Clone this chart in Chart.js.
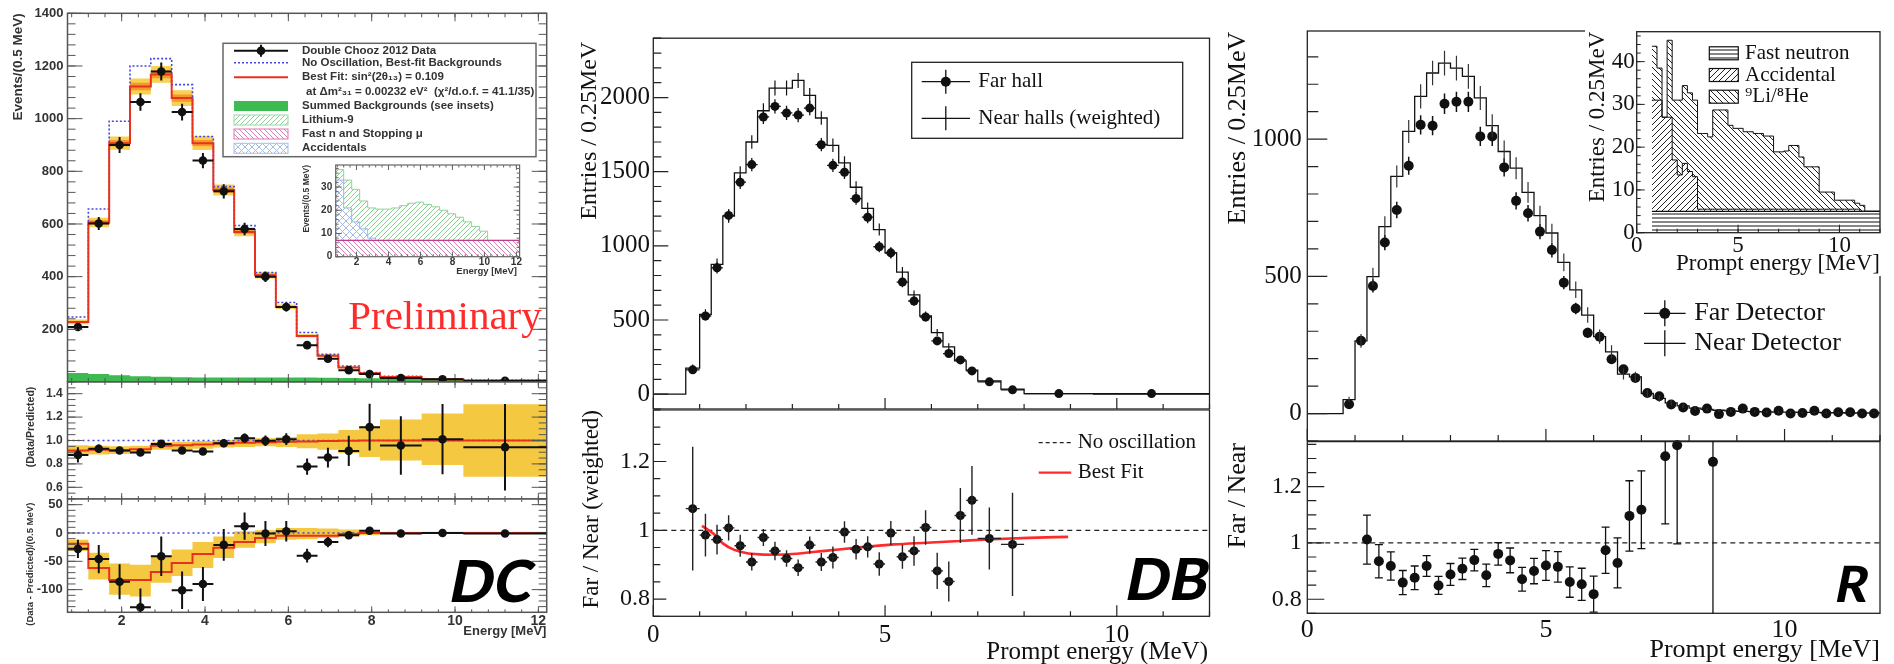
<!DOCTYPE html>
<html>
<head>
<meta charset="utf-8">
<title>Reactor spectra: DC, DB, R</title>
<script src="https://cdn.jsdelivr.net/npm/chart.js@4.4.1/dist/chart.umd.min.js"></script>
<style>
  html, body { margin: 0; padding: 0; background: #fff; }
  #page { position: relative; width: 1894px; height: 664px; overflow: hidden; background: #fff; }
  .pane { position: absolute; }
  .pane canvas { display: block; }
</style>
</head>
<body>
<div id="page"></div>
<script>
// ---------------- Double Chooz (left) ----------------
const dcEdges = [0.7, 1.2, 1.7, 2.2, 2.7, 3.2, 3.7, 4.2, 4.7, 5.2, 5.7, 6.2, 6.7, 7.2, 7.7, 8.2, 9.2, 10.2, 12.2];
const dcCenters = [0.95, 1.45, 1.95, 2.45, 2.95, 3.45, 3.95, 4.45, 4.95, 5.45, 5.95, 6.45, 6.95, 7.45, 7.95, 8.7, 9.7, 11.2];
const dcData = [209, 602, 900, 1063, 1179, 1025, 841, 724, 581, 400, 285, 140, 88, 45, 30, 15, 10, 5];
const dcDataErr = [15, 25, 30, 33, 34, 32, 29, 27, 24, 20, 17, 12, 9, 7, 5, 4, 3, 2];
const dcNoOsc = [247, 657, 990, 1200, 1228, 1129, 932, 742, 594, 416, 302, 188, 105, 61, 36, 22, 11, 6];
const dcBestFit = [228, 606, 907, 1122, 1168, 1078, 907, 729, 570, 405, 285, 175, 100, 55, 33, 19, 10, 5];
const dcSystOuter = [9, 18, 25, 30, 32, 30, 26, 21, 17, 12, 9, 6, 4, 3, 2, 1.5, 1, 1];
const dcSystInner = [4, 8, 12, 14, 15, 14, 12, 10, 8, 6, 4, 3, 2, 1.5, 1, 0.8, 0.5, 0.5];
const dcBkg = [34, 30, 26, 22, 20, 18, 17, 17, 17, 17, 17, 17, 16, 15, 14, 12, 10, 0];

const dcRatio = [0.877, 0.929, 0.914, 0.897, 0.971, 0.914, 0.906, 0.977, 1.02, 0.997, 1.011, 0.777, 0.854, 0.911, 1.114, 0.957, 1.011, 0.943];
const dcRatioErr = [0.065, 0.036, 0.03, 0.03, 0.03, 0.03, 0.03, 0.035, 0.04, 0.045, 0.05, 0.07, 0.085, 0.13, 0.2, 0.25, 0.3, 0.37];
const dcRatioFit = [0.915, 0.92, 0.915, 0.925, 0.955, 0.96, 0.965, 0.975, 0.98, 0.985, 0.99, 0.992, 0.995, 0.997, 1, 1, 1, 1];
const dcRatioBandLo = [0.87, 0.88, 0.885, 0.89, 0.92, 0.925, 0.93, 0.94, 0.945, 0.95, 0.945, 0.934, 0.92, 0.89, 0.86, 0.83, 0.79, 0.69];
const dcRatioBandHi = [0.96, 0.955, 0.95, 0.955, 0.985, 0.99, 0.995, 1.005, 1.015, 1.02, 1.03, 1.054, 1.06, 1.09, 1.12, 1.18, 1.23, 1.31];

const dcDiff = [-28, -46, -86, -131, -41, -101, -90, -21, 12, -1, 3, -40, -16, -4, 4, -1, 0, -1];
const dcDiffErr = [16, 25, 31, 33, 35, 33, 30, 28, 24, 22, 18, 12, 9, 6, 4, 3, 2, 2];
const dcDiffFit = [-19, -62, -83, -83, -69, -53, -37, -26, -16, -9, -5, -5, -5, -2, 0, 0, 0, 0];
const dcDiffBandLo = [-32, -82, -109, -112, -88, -76, -62, -44, -26, -18, -12, -11, -9, -6, -4, -2, -2, -2];
const dcDiffBandHi = [-12, -35, -54, -56, -41, -29, -16, -6, 3, 5, 9, 9, 8, 6, 4, 2, 2, 2];

const dcInsetEdges = [0.7, 1.2, 1.7, 2.2, 2.7, 3.2, 3.7, 4.2, 4.7, 5.2, 5.7, 6.2, 6.7, 7.2, 7.7, 8.2, 8.7, 9.2, 9.7, 10.2, 10.7, 11.2, 11.7, 12.2];
const dcInsetFastN = [7, 7, 7, 7, 7, 7, 7, 7, 7, 7, 7, 7, 7, 7, 7, 7, 7, 7, 7, 7, 7, 7, 7];
const dcInsetAcc = [26, 14, 8, 5, 1, 0, 0, 0, 0, 0, 0, 0, 0, 0, 0, 0, 0, 0, 0, 0, 0, 0, 0];
const dcInsetLi = [4.5, 12, 14, 12, 13, 13.5, 13.5, 14, 15, 16, 16.5, 15.5, 14.5, 13, 11.5, 10, 8, 6, 4, 0, 0, 0, 0];

const dcLegendLabels = [
  'Double Chooz 2012 Data',
  'No Oscillation, Best-fit Backgrounds',
  'Best Fit: sin\u00b2(2\u03b8\u2081\u2083) = 0.109',
  'at \u0394m\u00b2\u2083\u2081 = 0.00232 eV\u00b2  (\u03c7\u00b2/d.o.f. = 41.1/35)',
  'Summed Backgrounds (see insets)',
  'Lithium-9',
  'Fast n and Stopping \u03bc',
  'Accidentals'
];

// ---------------- Daya Bay (middle) ----------------
const dbEdges = [0.7, 1.0, 1.25, 1.5, 1.75, 2.0, 2.25, 2.5, 2.75, 3.0, 3.25, 3.5, 3.75, 4.0, 4.25, 4.5, 4.75, 5.0, 5.25, 5.5, 5.75, 6.0, 6.25, 6.5, 6.75, 7.0, 7.5, 8.0, 9.5, 12.0];
const dbCenters = [0.85, 1.125, 1.375, 1.625, 1.875, 2.125, 2.375, 2.625, 2.875, 3.125, 3.375, 3.625, 3.875, 4.125, 4.375, 4.625, 4.875, 5.125, 5.375, 5.625, 5.875, 6.125, 6.375, 6.625, 6.875, 7.25, 7.75, 8.75, 10.75];
const dbFar = [164, 527, 852, 1205, 1429, 1548, 1869, 1940, 1896, 1882, 1929, 1682, 1543, 1496, 1319, 1193, 994, 953, 756, 628, 520, 359, 274, 231, 157, 83, 29, 4, 4];
const dbFarErr = [20, 30, 38, 42, 45, 45, 48, 48, 48, 48, 48, 45, 45, 45, 42, 40, 38, 38, 35, 32, 30, 25, 22, 20, 18, 12, 8, 3, 3];
const dbNear = [175, 538, 875, 1200, 1492, 1700, 1911, 2064, 2064, 2115, 2014, 1862, 1678, 1559, 1395, 1252, 1110, 953, 823, 669, 527, 415, 319, 224, 162, 90, 34, 3, 0];
const dbNearErr = [25, 35, 40, 45, 45, 45, 50, 50, 50, 50, 50, 45, 45, 45, 40, 40, 40, 35, 35, 30, 30, 25, 25, 20, 20, 15, 10, 3, 0];
const dbRatio = [1.063, 0.986, 0.973, 1.007, 0.955, 0.908, 0.979, 0.94, 0.918, 0.891, 0.957, 0.908, 0.921, 0.995, 0.945, 0.952, 0.902, 0.992, 0.923, 0.94, 1.008, 0.882, 0.851, 1.043, 1.087, 0.976, 0.959];
const dbRatioErr = [0.18, 0.062, 0.043, 0.037, 0.032, 0.025, 0.025, 0.027, 0.024, 0.024, 0.025, 0.026, 0.032, 0.031, 0.03, 0.031, 0.034, 0.035, 0.035, 0.043, 0.05, 0.053, 0.058, 0.08, 0.1, 0.09, 0.15];
const dbFitE = [1.05, 1.3, 1.5, 1.75, 2.0, 2.3, 2.65, 3.0, 3.75, 4.5, 5.2, 5.9, 6.6, 7.3, 8.1, 8.95];
const dbFitR = [1.013, 0.99, 0.962, 0.943, 0.934, 0.93, 0.929, 0.931, 0.941, 0.951, 0.959, 0.964, 0.969, 0.974, 0.978, 0.981];

// ---------------- RENO (right) ----------------
const rEdges = [0.75, 1, 1.25, 1.5, 1.75, 2, 2.25, 2.5, 2.75, 3, 3.25, 3.5, 3.75, 4, 4.25, 4.5, 4.75, 5, 5.25, 5.5, 5.75, 6, 6.25, 6.5, 6.75, 7, 7.25, 7.5, 7.75, 8, 8.25, 8.5, 8.75, 9, 9.25, 9.5, 9.75, 10, 10.25, 10.5, 10.75, 11, 11.25, 11.5, 11.75, 12];
const rFar = [34, 265, 465, 623, 742, 903, 1052, 1049, 1129, 1136, 1136, 1010, 1010, 897, 775, 730, 663, 596, 477, 383, 294, 280, 198, 161, 130, 75, 63, 33, 22, 9, 18, -2, 6, 18, 6, 4, 10, 0, 2, 10, 0, 5, 5, 0, 0];
const rFarErr = [8, 18, 24, 28, 30, 33, 35, 35, 37, 37, 37, 35, 35, 33, 31, 30, 28, 27, 24, 21, 19, 18, 16, 14, 13, 10, 9, 7, 6, 4, 5, 3, 3, 5, 3, 3, 4, 3, 3, 4, 3, 3, 3, 3, 3];
const rNear = [51, 265, 499, 681, 864, 1028, 1156, 1241, 1277, 1259, 1229, 1150, 1049, 955, 894, 806, 721, 658, 551, 451, 359, 280, 225, 144, 134, 73, 55, 39, 28, 20, 15, 12, 10, 8, 7, 6, 5, 5, 4, 4, 3, 3, 2, 2, 2];
const rNearErr = [10, 25, 32, 38, 40, 42, 44, 45, 45, 45, 45, 44, 42, 40, 40, 38, 36, 34, 32, 30, 28, 26, 24, 20, 18, 14, 12, 10, 8, 7, 6, 5, 5, 4, 4, 4, 3, 3, 3, 3, 3, 3, 2, 2, 2];
const rRatioE = [1.25, 1.5, 1.75, 2, 2.25, 2.5, 2.75, 3, 3.25, 3.5, 3.75, 4, 4.25, 4.5, 4.75, 5, 5.25, 5.5, 5.75, 6, 6.25, 6.5, 6.75, 7, 7.5, 7.75, 8.5];
const rRatio = [1.012, 0.935, 0.918, 0.859, 0.876, 0.918, 0.849, 0.888, 0.908, 0.939, 0.885, 0.961, 0.938, 0.871, 0.9, 0.92, 0.915, 0.861, 0.853, 0.818, 0.974, 0.929, 1.096, 1.118, 1.308, 1.347, 1.288];
const rRatioErr = [0.087, 0.059, 0.05, 0.043, 0.042, 0.037, 0.032, 0.039, 0.038, 0.038, 0.04, 0.04, 0.044, 0.042, 0.045, 0.053, 0.054, 0.054, 0.057, 0.064, 0.082, 0.089, 0.125, 0.138, 0.24, 0.35, 0.6];
const rInsetFastN = [5, 5, 5, 5, 5, 5, 5, 5, 5, 5, 5, 5, 5, 5, 5, 5, 5, 5, 5, 5, 5, 5, 5, 5, 5, 5, 5, 5, 5, 5, 5, 5, 5, 5, 5, 5, 5, 5, 5, 5, 5, 5, 5, 5, 5];
const rInsetAcc = [26, 26, 22, 22, 12, 8.5, 11.2, 9.3, 8.1, 0.5, 0.5, 0.5, 0.5, 0.5, 0.5, 0.5, 0.5, 0.5, 0.5, 0.5, 0.5, 0.5, 0.5, 0.5, 0.5, 0.5, 0.5, 0.5, 0.5, 0.5, 0.5, 0.5, 0.5, 0.5, 0.5, 0.5, 0.5, 0.5, 0.5, 0.5, 0.5, 0, 0, 0, 0];
const rInsetLi = [12.6, 7.5, 0, 18, 14, 17.5, 18.2, 18.4, 17.9, 17.7, 17.7, 16.9, 23.2, 23.2, 23.2, 19.6, 18.9, 18.9, 18.1, 18.1, 17.7, 17.7, 17.1, 17.1, 13.4, 13.4, 13.6, 14.9, 14.9, 12.2, 9.9, 9.9, 9.9, 4.0, 4.0, 4.0, 2.1, 2.1, 2.1, 2.1, 1.4, 1.4, 0, 0, 0];

// ---------------- helpers ----------------
const SANS = '"Liberation Sans", "DejaVu Sans", Arial, sans-serif';
const SERIF = '"Liberation Serif", "DejaVu Serif", "Times New Roman", serif';
const BIG = 'Lato, "Open Sans", "DejaVu Sans", sans-serif';
const PAGE = document.getElementById('page');

const pts = (xs, ys) => xs.map((x, i) => ({ x, y: ys[i] }));
const half = e => e.slice(0, -1).map((v, i) => (e[i + 1] - v) / 2);
const mids = e => e.slice(0, -1).map((v, i) => (e[i + 1] + v) / 2);
const add = (a, b, s) => a.map((v, i) => v + s * b[i]);
function seq(a, b, s) { const o = []; for (let v = a; v <= b + 1e-9; v += s) o.push(+v.toFixed(4)); return o; }

function steps(edges, vals, start) {
  const d = start === undefined ? [] : [{ x: start, y: 0 }];
  vals.forEach((v, i) => d.push({ x: edges[i], y: v }));
  d.push({ x: edges[edges.length - 1], y: vals[vals.length - 1] });
  return d;
}
function hist(edges, vals, style, start) {
  return Object.assign({ data: steps(edges, vals, start), stepped: 'before', pointRadius: 0,
    borderColor: '#111', borderWidth: 1.3, fill: false }, style);
}
function dots(xs, ys, r, err) {
  return { data: pts(xs, ys), showLine: false, pointRadius: r, pointBackgroundColor: '#111',
    pointBorderWidth: 0, clip: false, errorBars: err };
}
function flat(x0, x1, y, color, w, dash) {
  return { data: [{ x: x0, y }, { x: x1, y }], borderColor: color, borderWidth: w, borderDash: dash || [], pointRadius: 0 };
}

function hatch(kind, color, gap, lw) {
  const c = document.createElement('canvas'); c.width = gap; c.height = gap;
  const g = c.getContext('2d'); g.strokeStyle = color; g.lineWidth = lw; g.beginPath();
  if (kind === '/' || kind === 'x') for (const o of [-gap, 0, gap]) { g.moveTo(o, gap); g.lineTo(o + gap, 0); }
  if (kind === '\\' || kind === 'x') for (const o of [-gap, 0, gap]) { g.moveTo(o, 0); g.lineTo(o + gap, gap); }
  if (kind === '-') { g.moveTo(0, gap / 2); g.lineTo(gap, gap / 2); }
  g.stroke();
  return g.createPattern(c, 'repeat');
}

function txt(c, s, x, y, font, o) {
  o = o || {};
  c.save(); c.translate(x, y); if (o.rot) c.rotate(o.rot * Math.PI / 180);
  if (o.skew) c.transform(1, 0, -o.skew, 1, 0, 0);
  c.font = font; c.fillStyle = o.color || '#111';
  c.textAlign = o.align || 'left'; c.textBaseline = o.base || 'middle';
  c.fillText(s, 0, 0); c.restore();
}
function seg(c, x1, y1, x2, y2, color, w, dash) {
  c.save(); c.strokeStyle = color; c.lineWidth = w; c.setLineDash(dash || []);
  c.beginPath(); c.moveTo(x1, y1); c.lineTo(x2, y2); c.stroke(); c.restore();
}
function disc(c, x, y, r, color) { c.save(); c.fillStyle = color; c.beginPath(); c.arc(x, y, r, 0, Math.PI * 2); c.fill(); c.restore(); }
function boxP(c, x, y, w, h, fill, stroke, lw) {
  c.save();
  if (fill) { c.fillStyle = fill; c.fillRect(x, y, w, h); }
  if (stroke) { c.strokeStyle = stroke; c.lineWidth = lw || 1; c.strokeRect(x, y, w, h); }
  c.restore();
}
// big panel tag (bold, slanted)
const tag = (c, s, x, y, size) => txt(c, s, x, y, '900 ' + size + 'px ' + BIG, { base: 'alphabetic', color: '#000', skew: 0.2 });

// error bars from dataset.errorBars = {y:[], x:[], cap, color, width}
const errorBars = {
  id: 'errorBars',
  afterDatasetsDraw(chart) {
    const { ctx, chartArea: a, scales: { x, y } } = chart;
    ctx.save();
    ctx.beginPath(); ctx.rect(a.left, a.top, a.right - a.left, a.bottom - a.top); ctx.clip();
    chart.data.datasets.forEach(ds => {
      const e = ds.errorBars; if (!e) return;
      ctx.strokeStyle = e.color || '#111'; ctx.lineWidth = e.width || 1.2;
      ctx.beginPath();
      ds.data.forEach((p, i) => {
        const px = x.getPixelForValue(p.x), py = y.getPixelForValue(p.y);
        if (e.y) {
          const t = y.getPixelForValue(p.y + e.y[i]), b = y.getPixelForValue(p.y - e.y[i]);
          ctx.moveTo(px, t); ctx.lineTo(px, b);
          if (e.cap) { ctx.moveTo(px - e.cap, t); ctx.lineTo(px + e.cap, t); ctx.moveTo(px - e.cap, b); ctx.lineTo(px + e.cap, b); }
        }
        if (e.x) { ctx.moveTo(x.getPixelForValue(p.x - e.x[i]), py); ctx.lineTo(x.getPixelForValue(p.x + e.x[i]), py); }
      });
      ctx.stroke();
    });
    ctx.restore();
  }
};

// inward tick marks and the frame
function frameTicks(t) {
  return {
    id: 'frameTicks',
    afterDatasetsDraw(chart) {
      const { ctx, chartArea: a, scales: { x, y } } = chart;
      ctx.save(); ctx.strokeStyle = t.color; ctx.lineWidth = t.width; ctx.beginPath();
      const xt = (list, len) => list.forEach(v => {
        const px = x.getPixelForValue(v);
        if (px < a.left - 0.5 || px > a.right + 0.5) return;
        if (t.xSides.includes('b')) { ctx.moveTo(px, a.bottom); ctx.lineTo(px, a.bottom - len); }
        if (t.xSides.includes('t')) { ctx.moveTo(px, a.top); ctx.lineTo(px, a.top + len); }
      });
      const yt = (list, len) => list.forEach(v => {
        const py = y.getPixelForValue(v);
        if (py < a.top - 0.5 || py > a.bottom + 0.5) return;
        if (t.ySides.includes('l')) { ctx.moveTo(a.left, py); ctx.lineTo(a.left + len, py); }
        if (t.ySides.includes('r')) { ctx.moveTo(a.right, py); ctx.lineTo(a.right - len, py); }
      });
      xt(t.xMinor, t.xLen[1]); xt(t.xMajor, t.xLen[0]);
      yt(t.yMinor, t.yLen[1]); yt(t.yMajor, t.yLen[0]);
      ctx.stroke();
      ctx.lineWidth = t.frame; ctx.strokeRect(a.left, a.top, a.right - a.left, a.bottom - a.top);
      ctx.restore();
    }
  };
}
// page-coordinate drawing on top of a chart; also hands over the chart for its scales
function overlay(ox, oy, draw) {
  return { id: 'overlay', afterDraw(chart) { const c = chart.ctx; c.save(); c.translate(-ox, -oy); draw(c, chart, ox, oy); c.restore(); } };
}

function axisCfg(a, size, horiz, stacked) {
  const shown = !!a.labels;
  return {
    type: 'linear', min: a.min, max: a.max, stacked: !!stacked, display: shown,
    grid: { display: false, drawTicks: false }, border: { display: false },
    ticks: { display: !a.selfDrawn, autoSkip: false, maxRotation: 0, minRotation: 0, padding: a.pad || 0,
      font: a.font, color: a.color || '#111', callback: a.fmt || (v => String(v)) },
    afterBuildTicks: s => { if (a.labels) s.ticks = a.labels.map(v => ({ value: v })); },
    afterFit: s => {
      if (horiz) s.height = shown ? size : 0; else s.width = shown ? size : 0;
      s.paddingLeft = s.paddingRight = s.paddingTop = s.paddingBottom = 0;
    }
  };
}

function plot(p) {
  const [bx, by, bw, bh] = p.box;
  const [fl, ft, fr, fb] = p.frame;
  const d = document.createElement('div');
  d.className = 'pane';
  Object.assign(d.style, { left: bx + 'px', top: by + 'px', width: bw + 'px', height: bh + 'px' });
  if (p.bg) d.style.background = p.bg;
  const canvas = document.createElement('canvas');
  canvas.width = bw; canvas.height = bh;
  d.appendChild(canvas); PAGE.appendChild(d);
  const extra = [frameTicks(p.ticks), errorBars];
  if (p.draw) extra.push(overlay(bx, by, p.draw));
  return new Chart(canvas, {
    type: 'line',
    data: { datasets: p.datasets },
    options: {
      responsive: false, animation: false, devicePixelRatio: 1, events: [],
      layout: { autoPadding: false, padding: { left: 0, top: ft - by, right: bx + bw - fr, bottom: p.x.labels ? 0 : by + bh - fb } },
      scales: { x: axisCfg(p.x, by + bh - fb, true, false), y: axisCfg(p.y, fl - bx, false, p.stacked) },
      plugins: { legend: { display: false }, tooltip: { enabled: false } }
    },
    plugins: extra
  });
}

// ---------------- colours / patterns ----------------
const DC_TXT = '#333';
const RED = '#e8321e', BLUE = '#4646dc', YEL = '#f5c842', ORA = '#f39a2a', GRN = '#3dbb50';
const greenHatch = hatch('/', '#86d28f', 5, 1);
const pinkHatch = hatch('\\', '#e07ab8', 5, 1);
const blueCross = hatch('x', '#a4bbe6', 7, 1);
const hLines = hatch('-', '#111', 4, 1);
const fwd = hatch('/', '#222', 6, 1);
const back = hatch('\\', '#222', 6, 1);

const dcTicksX = { xMajor: [2, 4, 6, 8, 10, 12], xMinor: seq(0.8, 12, 0.4), xSides: 'tb' };
const sb = (size) => ({ family: SANS, size, weight: 'bold' });
const sf = (size) => ({ family: SERIF, size });

// ---------------- DC main ----------------
plot({
  box: [0, 0, 556, 382], frame: [67.5, 13.3, 546.7, 382],
  x: { min: 0.7, max: 12.2 },
  y: { min: 0, max: 1400, labels: [200, 400, 600, 800, 1000, 1200, 1400], font: sb(13), color: DC_TXT, pad: 4 },
  ticks: Object.assign({ color: '#555', width: 1, frame: 1.5, xLen: [8, 4], yMajor: seq(0, 1400, 200), yMinor: seq(0, 1400, 40), yLen: [15, 8], ySides: 'lr' }, dcTicksX),
  datasets: [
    dots(dcCenters, dcData, 4.3, { y: dcDataErr, x: half(dcEdges), width: 2 }),
    hist(dcEdges, dcBestFit, { borderColor: RED, borderWidth: 2 }),
    hist(dcEdges, dcNoOsc, { borderColor: BLUE, borderWidth: 1.6, borderDash: [2, 2] }),
    hist(dcEdges, add(dcBestFit, dcSystInner, 1), { borderWidth: 0, fill: 4, backgroundColor: ORA }),
    hist(dcEdges, add(dcBestFit, dcSystInner, -1), { borderWidth: 0 }),
    hist(dcEdges, add(dcBestFit, dcSystOuter, 1), { borderWidth: 0, fill: 6, backgroundColor: '#f8d052' }),
    hist(dcEdges, add(dcBestFit, dcSystOuter, -1), { borderWidth: 0 }),
    hist(dcEdges, dcBkg, { borderWidth: 0, fill: 'origin', backgroundColor: GRN })
  ],
  draw: c => {
    txt(c, 'Events/(0.5 MeV)', 18, 13.3, 'bold 13.5px ' + SANS, { rot: -90, align: 'right', color: DC_TXT });
    boxP(c, 223, 43.3, 313, 113.4, '#fff', '#666', 1.5);
    const x1 = 234, x2 = 288, xm = 261, rows = [50.7, 62.7, 77.3, 91.7, 106, 120, 134, 148.3];
    seg(c, x1, rows[0], x2, rows[0], '#111', 2); seg(c, xm, rows[0] - 6, xm, rows[0] + 6, '#111', 2); disc(c, xm, rows[0], 4.3, '#111');
    seg(c, x1, rows[1], x2, rows[1], BLUE, 1.6, [2, 2]);
    seg(c, x1, rows[2], x2, rows[2], RED, 2);
    boxP(c, x1, rows[4] - 5, 54, 10, GRN);
    boxP(c, x1, rows[5] - 5, 54, 10, greenHatch, '#9ad8a4', 1);
    boxP(c, x1, rows[6] - 5, 54, 10, pinkHatch, '#d77ab5', 1);
    boxP(c, x1, rows[7] - 5, 54, 10, blueCross, '#a8bde6', 1);
    dcLegendLabels.forEach((s, i) => txt(c, s, i === 3 ? 306 : 302, rows[i], 'bold 11.5px ' + SANS, { color: DC_TXT }));
    txt(c, 'Preliminary', 348.2, 328.5, '41px ' + SERIF, { color: '#ff2a2a', base: 'alphabetic' });
  }
});

// ---------------- DC inset ----------------
plot({
  box: [290, 158, 236, 122], frame: [335.7, 165, 519.6, 256.7], bg: '#fff', stacked: true,
  x: { min: 0.7, max: 12.2, labels: [2, 4, 6, 8, 10, 12], font: sb(10), color: DC_TXT, pad: 0 },
  y: { min: 0, max: 39.5, labels: [0, 10, 20, 30], font: sb(10), color: DC_TXT, pad: 3.5 },
  ticks: { color: '#666', width: 1, frame: 1.2, xMajor: [2, 4, 6, 8, 10, 12], xMinor: seq(0.8, 12, 0.4), xLen: [5, 2.5], xSides: 'tb',
    yMajor: [0, 10, 20, 30], yMinor: seq(0, 38, 2), yLen: [6, 3], ySides: 'lr' },
  datasets: [
    hist(dcInsetEdges, dcInsetFastN, { borderColor: '#c23a92', borderWidth: 1.2, fill: 'origin', backgroundColor: pinkHatch }),
    hist(dcInsetEdges, dcInsetAcc, { borderColor: '#9db5e3', borderWidth: 1, fill: '-1', backgroundColor: blueCross }),
    hist(dcInsetEdges, dcInsetLi, { borderColor: '#8fd49a', borderWidth: 1, fill: '-1', backgroundColor: greenHatch })
  ],
  draw: c => {
    txt(c, 'Events/(0.5 MeV)', 306.4, 165, 'bold 8.5px ' + SANS, { rot: -90, align: 'right', color: DC_TXT });
    txt(c, 'Energy [MeV]', 517, 271.7, 'bold 9.5px ' + SANS, { align: 'right', color: DC_TXT });
  }
});

// ---------------- DC ratio ----------------
plot({
  box: [0, 372, 556, 127], frame: [67.5, 382, 546.7, 499],
  x: { min: 0.7, max: 12.2 },
  y: { min: 0.5, max: 1.5, labels: [0.6, 0.8, 1.0, 1.2, 1.4], font: sb(12), color: DC_TXT, pad: 4.8, fmt: v => v.toFixed(1) },
  ticks: Object.assign({ color: '#555', width: 1, frame: 1.5, xLen: [6, 3], yMajor: [0.6, 0.8, 1.0, 1.2, 1.4], yMinor: seq(0.5, 1.5, 0.05), yLen: [15, 8], ySides: 'lr' }, dcTicksX),
  datasets: [
    dots(dcCenters, dcRatio, 4.3, { y: dcRatioErr, x: half(dcEdges), width: 2 }),
    hist(dcEdges, dcRatioFit, { borderColor: RED, borderWidth: 2 }),
    flat(0.7, 12.2, 1, BLUE, 1.5, [2, 3]),
    hist(dcEdges, dcRatioBandHi, { borderWidth: 0, fill: 4, backgroundColor: YEL }),
    hist(dcEdges, dcRatioBandLo, { borderWidth: 0 })
  ],
  draw: c => txt(c, '(Data/Predicted)', 30.7, 386.7, 'bold 10.5px ' + SANS, { rot: -90, align: 'right', color: DC_TXT })
});

// ---------------- DC data - predicted ----------------
plot({
  box: [0, 489, 556, 175], frame: [67.5, 499, 546.7, 612.3],
  x: { min: 0.7, max: 12.2, labels: [2, 4, 6, 8, 10, 12], font: sb(14), color: DC_TXT, pad: 0 },
  y: { min: -140, max: 60, labels: [-100, -50, 0, 50], font: sb(13), color: DC_TXT, pad: 4.8 },
  ticks: Object.assign({ color: '#555', width: 1, frame: 1.5, xLen: [6, 3], yMajor: [-100, -50, 0, 50], yMinor: seq(-140, 60, 10), yLen: [15, 8], ySides: 'lr' }, dcTicksX),
  datasets: [
    dots(dcCenters, dcDiff, 4.3, { y: dcDiffErr, x: half(dcEdges), width: 2 }),
    hist(dcEdges, dcDiffFit, { borderColor: RED, borderWidth: 2 }),
    flat(0.7, 12.2, 0, BLUE, 1.5, [2, 3]),
    hist(dcEdges, dcDiffBandHi, { borderWidth: 0, fill: 4, backgroundColor: YEL }),
    hist(dcEdges, dcDiffBandLo, { borderWidth: 0 })
  ],
  draw: c => {
    txt(c, '(Data - Predicted)/(0.5 MeV)', 30.7, 502.7, 'bold 9.5px ' + SANS, { rot: -90, align: 'right', color: DC_TXT });
    txt(c, 'Energy [MeV]', 546.4, 631.7, 'bold 13px ' + SANS, { align: 'right', color: DC_TXT });
    tag(c, 'DC', 447, 601.7, 58);
  }
});

// ---------------- DB main ----------------
plot({
  box: [560, 0, 656, 409.9], frame: [653.3, 38.2, 1209.5, 409.9],
  x: { min: 0, max: 12 },
  y: { min: -100, max: 2400, labels: [0, 500, 1000, 1500, 2000], font: sf(25), pad: 3.3 },
  ticks: { color: '#222', width: 1.2, frame: 1.3, xMajor: [0, 5, 10], xMinor: seq(0, 12, 1), xLen: [11, 5], xSides: 'b',
    yMajor: seq(0, 2000, 500), yMinor: seq(-100, 2400, 100), yLen: [15, 8], ySides: 'l' },
  datasets: [
    dots(dbCenters, dbFar, 4.5, { y: dbFarErr, x: half(dbEdges), width: 1.3 }),
    hist(dbEdges, dbNear, { borderColor: '#111', borderWidth: 1.3 }, 0),
    { data: pts(dbCenters, dbNear), showLine: false, pointRadius: 0, errorBars: { y: dbNearErr, width: 1.2 } }
  ],
  draw: c => {
    txt(c, 'Entries / 0.25MeV', 590, 41.7, '24px ' + SERIF, { rot: -90, align: 'right' });
    boxP(c, 911.7, 62.3, 271, 76, '#fff', '#222', 1.3);
    seg(c, 921.7, 81.7, 970, 81.7, '#111', 1.3); seg(c, 945.8, 69.7, 945.8, 93.7, '#111', 1.3); disc(c, 945.8, 81.7, 5, '#111');
    txt(c, 'Far hall', 978.3, 81.7, '21px ' + SERIF);
    seg(c, 921.7, 118.3, 970, 118.3, '#111', 1.3); seg(c, 945.8, 106.3, 945.8, 130.3, '#111', 1.3);
    txt(c, 'Near halls (weighted)', 978.3, 118.3, '21px ' + SERIF);
  }
});

// ---------------- DB ratio ----------------
plot({
  box: [560, 400, 656, 264], frame: [653.3, 409.9, 1209.5, 616.3],
  x: { min: 0, max: 12, labels: [0, 5, 10], font: sf(25), pad: 4 },
  y: { min: 0.75, max: 1.35, labels: [0.8, 1, 1.2], font: sf(24), pad: 3.3 },
  ticks: { color: '#222', width: 1.2, frame: 1.3, xMajor: [0, 5, 10], xMinor: seq(0, 12, 1), xLen: [11, 5], xSides: 'b',
    yMajor: [0.8, 1, 1.2], yMinor: seq(0.75, 1.35, 0.05), yLen: [13, 7], ySides: 'l' },
  datasets: [
    dots(dbCenters.slice(0, 27), dbRatio, 4.5, { y: dbRatioErr, x: half(dbEdges).slice(0, 27), width: 1.4, color: '#222' }),
    { data: pts(dbFitE, dbFitR), borderColor: '#ff2a2a', borderWidth: 2.6, pointRadius: 0, cubicInterpolationMode: 'monotone' },
    flat(0, 12, 1, '#222', 1.3, [5, 4])
  ],
  draw: c => {
    seg(c, 1038.7, 442.7, 1071.2, 442.7, '#222', 1.3, [4, 3]);
    txt(c, 'No oscillation', 1077.7, 442.7, '21px ' + SERIF);
    seg(c, 1038.7, 472.7, 1071.2, 472.7, '#ff2a2a', 2.2);
    txt(c, 'Best Fit', 1077.7, 472.7, '21px ' + SERIF);
    txt(c, 'Far / Near (weighted)', 592, 410, '23px ' + SERIF, { rot: -90, align: 'right' });
    txt(c, 'Prompt energy (MeV)', 1208, 652, '25px ' + SERIF, { align: 'right' });
    tag(c, 'DB', 1123, 600, 58);
  }
});

// ---------------- RENO main ----------------
const rCenters = mids(rEdges);
plot({
  box: [1220, 0, 674, 441.6], frame: [1307.3, 31, 1880, 441.6],
  x: { min: 0, max: 12 },
  y: { min: -100, max: 1394, labels: [0, 500, 1000], font: sf(25), pad: 5.6 },
  ticks: { color: '#222', width: 1.2, frame: 1.3, xMajor: [0, 5, 10], xMinor: seq(0, 12, 1), xLen: [12, 6], xSides: 'b',
    yMajor: [0, 500, 1000], yMinor: seq(-100, 1300, 100), yLen: [20, 11], ySides: 'l' },
  datasets: [
    dots(rCenters, rFar, 5, { y: rFarErr, width: 1.5 }),
    hist(rEdges, rNear, { borderColor: '#111', borderWidth: 1.3 }, 0),
    { data: pts(rCenters, rNear), showLine: false, pointRadius: 0, errorBars: { y: rNearErr, width: 1.2, color: '#333' } }
  ],
  draw: c => {
    txt(c, 'Entries / 0.25MeV', 1238, 31.7, '26px ' + SERIF, { rot: -90, align: 'right' });
    seg(c, 1644, 313.3, 1685.6, 313.3, '#111', 1.3); seg(c, 1664.8, 300.3, 1664.8, 326.3, '#111', 1.3); disc(c, 1664.8, 313.3, 5.5, '#111');
    txt(c, 'Far Detector', 1694.3, 313.3, '26px ' + SERIF);
    seg(c, 1644, 343.3, 1685.6, 343.3, '#111', 1.3); seg(c, 1664.8, 330.3, 1664.8, 356.3, '#111', 1.3);
    txt(c, 'Near Detector', 1694.3, 343.3, '26px ' + SERIF);
  }
});

// ---------------- RENO inset ----------------
const rInsetTicks = [0, 5, 10];
plot({
  box: [1585, 0, 309, 276], frame: [1636.7, 31.7, 1880, 232.7], bg: '#fff', stacked: true,
  x: { min: 0, max: 12, labels: rInsetTicks, selfDrawn: true },
  y: { min: 0, max: 47, labels: [0, 10, 20, 30, 40], font: sf(23), pad: 2 },
  ticks: { color: '#222', width: 1, frame: 1.3, xMajor: [0, 5, 10], xMinor: seq(0, 12, 1), xLen: [8, 4], xSides: 'b',
    yMajor: [0, 10, 20, 30, 40], yMinor: seq(0, 46, 2), yLen: [8, 4], ySides: 'l' },
  datasets: [
    hist(rEdges, rInsetFastN, { borderColor: '#111', borderWidth: 1.2, fill: 'origin', backgroundColor: hLines }),
    hist(rEdges, rInsetAcc, { borderColor: '#111', borderWidth: 1, fill: '-1', backgroundColor: fwd }),
    hist(rEdges, rInsetLi, { borderColor: '#111', borderWidth: 1, fill: '-1', backgroundColor: back })
  ],
  draw: (c, chart, ox) => {
    const sx = chart.scales.x;
    rInsetTicks.forEach(v => txt(c, String(v), sx.getPixelForValue(v) + ox, 245.5, '23px ' + SERIF, { align: 'center' }));
    const rows = [53.3, 75, 96.7], pats = [hLines, fwd, back], names = ['Fast neutron', 'Accidental', '\u2079Li/\u2078He'];
    rows.forEach((y, i) => { boxP(c, 1709.3, y - 6.5, 29, 13, pats[i], '#111', 1.2); txt(c, names[i], 1745, y, '21px ' + SERIF); });
    txt(c, 'Prompt energy [MeV]', 1880, 264, '23px ' + SERIF, { align: 'right' });
    txt(c, 'Entries / 0.25MeV', 1598, 31.7, '23px ' + SERIF, { rot: -90, align: 'right' });
  }
});

// ---------------- RENO ratio ----------------
plot({
  box: [1220, 432, 674, 232], frame: [1307.3, 441.6, 1880, 613.3],
  x: { min: 0, max: 12, labels: [0, 5, 10], font: sf(26), pad: 1 },
  y: { min: 0.75, max: 1.36, labels: [0.8, 1, 1.2], font: sf(24), pad: 5.6 },
  ticks: { color: '#222', width: 1.2, frame: 1.3, xMajor: [], xMinor: [], xLen: [0, 0], xSides: '',
    yMajor: [0.8, 1, 1.2], yMinor: seq(0.75, 1.35, 0.05), yLen: [17, 9], ySides: 'l' },
  datasets: [
    dots(rRatioE, rRatio, 5, { y: rRatioErr, cap: 4, width: 1.3 }),
    flat(0, 12, 1, '#222', 1.3, [5, 4])
  ],
  draw: c => {
    txt(c, 'Far / Near', 1238, 443, '26px ' + SERIF, { rot: -90, align: 'right' });
    txt(c, 'Prompt energy [MeV]', 1880, 650, '26px ' + SERIF, { align: 'right' });
    tag(c, 'R', 1833, 602, 50);
  }
});
</script>
</body>
</html>
